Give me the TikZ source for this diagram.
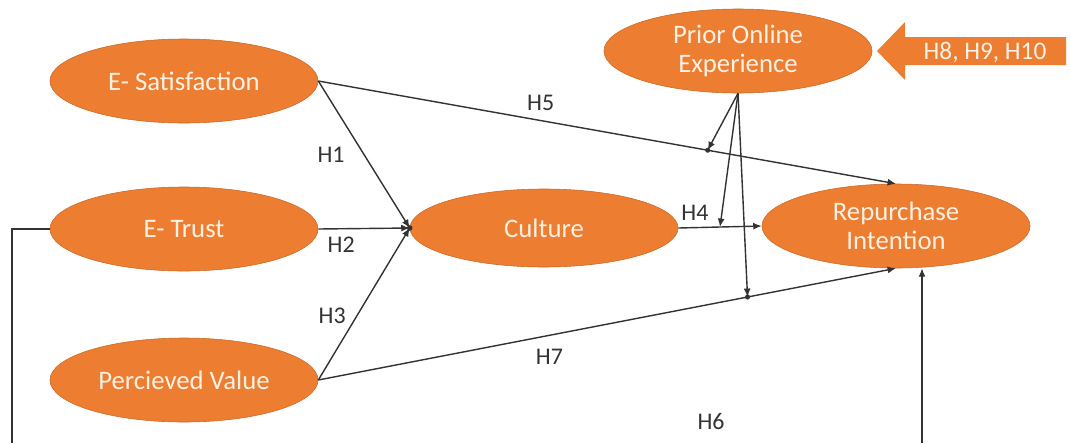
\documentclass[tikz,border=0pt]{standalone}
\usepackage{fontspec}
\setmainfont{Carlito}
\usetikzlibrary{arrows.meta,shapes.geometric,calc}

\definecolor{pptorange}{HTML}{ED7D31}
\definecolor{linegrey}{HTML}{333333}
\definecolor{cream}{HTML}{FDF1E4}

\tikzset{
  construct/.style={ellipse, fill=pptorange, draw=pptorange!85!black,
    line width=0.4pt, text=cream, minimum width=6.7cm, minimum height=2.1cm,
    inner sep=0pt, align=center, font=\fontsize{19}{21}\selectfont},
  link/.style={draw=linegrey, line width=1pt, -{Latex[length=6pt,width=5pt]}},
  hyp/.style={font=\fontsize{17}{20}\selectfont, text=linegrey},
  joint/.style={fill=linegrey}
}

\begin{document}
\begin{tikzpicture}[x=0.025cm, y=-0.025cm]
    \useasboundingbox (0, 0) rectangle (1070, 443);

    % constructs
    \node[construct] (sat) at (184, 81) {E- Satisfaction};
    \node[construct] (trust) at (184, 229) {E- Trust};
    \node[construct] (value) at (184, 380) {Percieved Value};
    \node[construct, minimum height=1.95cm] (cult) at (544, 228) {Culture};
    \node[construct] (rep) at (896, 226) {Repurchase\\Intention};
    \node[construct] (prior) at (738, 51) {Prior Online\\Experience};

    % moderator arrow
    \fill[pptorange] (877, 51) -- (905, 22) -- (905, 37) -- (1066, 37)
	-- (1066, 65) -- (905, 65) -- (905, 80) -- cycle;
    \node[text=cream, font=\fontsize{18}{20}\selectfont] (modtxt) at (985, 52) {H8, H9, H10};

    % direct paths
    \draw[link] (sat.east) -- (cult.west)
	node [hyp, pos=0.5, left=10pt] {H1};
    \draw[link] (trust.east) -- (cult.west)
	node [hyp, pos=0.25, below=2pt] {H2};
    \draw[link] (value.east) -- (cult.west)
	node [hyp, pos=0.42, left=4pt] {H3};
    \draw[link] (cult.east) -- (rep.west)
	node [hyp, pos=0.2, above=1pt] {H4};
    \draw[link] (sat.east) -- (rep.north)
	node [hyp, pos=0.385, above=3pt] {H5};
    \draw[link] (value.east) -- (rep.south)
	node [hyp, pos=0.4, below=6pt] {H7};

    % E-Trust to Repurchase Intention
    \coordinate (trustfoot) at (12, 443);
    \coordinate (repfoot) at (922, 443);
    \draw[draw=linegrey, line width=1pt] (trust.west) -| (trustfoot);
    \draw[link] (repfoot) -- (repfoot |- rep.south);
    \node[hyp] (h6) at (711, 422) {H6};

    % moderation by prior experience
    \coordinate (mod5) at ($(sat.east)!0.674!(rep.north)$);
    \coordinate (mod4) at ($(cult.east)!0.5!(rep.west)$);
    \coordinate (mod7) at ($(value.east)!0.743!(rep.south)$);
    \draw[link] (prior.south) -- (mod5);
    \draw[link] (prior.south) -- (mod4);
    \draw[link] (prior.south) -- (mod7);
    \fill[joint] (mod5) circle (1.8pt);
    \fill[joint] (mod7) circle (1.8pt);
    \fill[joint] (cult.west) circle (2pt);
\end{tikzpicture}
\end{document}
